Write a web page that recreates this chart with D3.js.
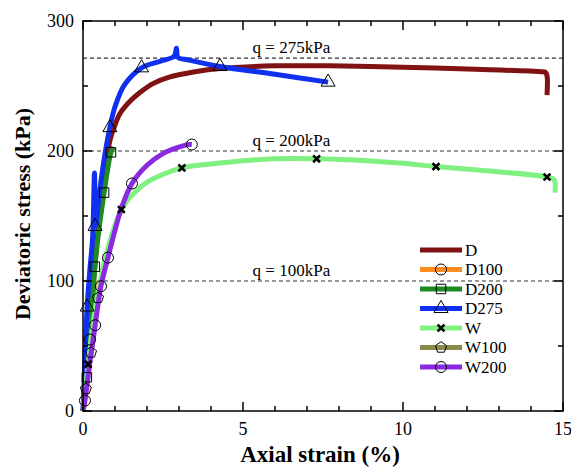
<!DOCTYPE html>
<html>
<head>
<meta charset="utf-8">
<script src="https://cdn.jsdelivr.net/npm/d3@7"></script>
<style>
  body { margin: 0; background: #fff; }
  text { font-family: "Liberation Serif", "Times New Roman", serif; fill: #000; }
</style>
</head>
<body>
<svg id="chart" width="571" height="467"></svg>
<script>
// ---- data (strain %, deviatoric stress kPa) ----
const seriesNames = ['D', 'D100', 'D200', 'D275', 'W', 'W100', 'W200'];
const seriesColors = ['#7f1212', '#ff8c1f', '#1f8a1f', '#1030f0', '#80f080', '#8a8a48', '#8a2be2'];
const seriesMarkers = ['none', 'circle', 'square', 'triangle', 'cross', 'pentagon', 'circle'];

const curveD = [[0, 0], [0.2, 60], [0.4, 120], [0.6, 170], [0.84, 208], [1.0, 220], [1.16, 229], [1.5, 239], [1.78, 245], [2.2, 252], [2.72, 257], [3.5, 261], [4.28, 263.5], [6, 265.5], [7.7, 265.5], [10, 264.5], [12, 263], [14.3, 261], [14.45, 260.5], [14.5, 258], [14.5, 243]];
const curveD100 = [[0, 0], [0.06, 8], [0.15, 35], [0.22, 55], [0.3, 80], [0.36, 100]];
const curveD200 = [[0, 0], [0.12, 26], [0.25, 70], [0.37, 111], [0.5, 140], [0.66, 168], [0.77, 186], [0.875, 199], [0.95, 203]];
const curveD275 = [[0, 0], [0.05, 30], [0.13, 80], [0.22, 110], [0.3, 133], [0.36, 183], [0.39, 142], [0.5, 165], [0.65, 192], [0.84, 218], [1.0, 234], [1.3, 251], [1.83, 264], [2.4, 269], [2.85, 273], [2.92, 279], [2.97, 272], [3.3, 270], [4.28, 265], [6, 259], [7.66, 253]];
const curveW = [[0, 0], [0.16, 36], [0.3, 65], [0.5, 95], [0.8, 127], [1.2, 155], [1.57, 167], [2.0, 176], [2.5, 182], [3.09, 187], [4, 190], [5, 192.5], [6, 194], [7.3, 194], [8.5, 193], [10, 190.5], [11.03, 188], [12.5, 185], [14.5, 180], [14.72, 178], [14.75, 168]];
const curveW100 = [[0, 0], [0.09, 17], [0.17, 30], [0.25, 45], [0.35, 65], [0.47, 87], [0.55, 98]];
const curveW200 = [[0, 0], [0.1, 15], [0.2, 35], [0.3, 52], [0.38, 66], [0.47, 82], [0.56, 96], [0.78, 118], [1.0, 139], [1.2, 156], [1.53, 175], [2.0, 189], [2.5, 198], [3.0, 203], [3.3, 205], [3.4, 205]];

const markD = [];
const markD100 = [[0.06, 8], [0.22, 55]];
const markD200 = [[0.12, 26], [0.37, 111], [0.66, 168], [0.875, 199]];
const markD275 = [[0.13, 80], [0.375, 142], [0.84, 218], [1.83, 264], [4.28, 265], [7.66, 253]];
const markW = [[0.16, 36], [1.2, 155], [3.09, 187], [7.3, 194], [11.03, 188], [14.5, 180]];
const markW100 = [[0.09, 17], [0.25, 45], [0.47, 87]];
const markW200 = [[0.38, 66], [0.56, 96], [0.78, 118], [1.53, 175], [3.4, 205]];

const curves = [curveD, curveD100, curveD200, curveD275, curveW, curveW100, curveW200];
const marks = [markD, markD100, markD200, markD275, markW, markW100, markW200];
// drawing order: hidden ones first
const drawOrder = [1, 5, 0, 2, 3, 4, 6];

const refValues = [271.5, 200, 100];
const refLabels = ['q = 275kPa', 'q = 200kPa', 'q = 100kPa'];

const xTicks = [0, 5, 10, 15];
const yTicks = [0, 100, 200, 300];

// ---- layout ----
const margin = { left: 83, right: 8, top: 21, bottom: 56 };
const W = 571, H = 467;
const width = W - margin.left - margin.right;
const height = H - margin.top - margin.bottom;

const svg = d3.select('#chart');
const g = svg.append('g').attr('transform', `translate(${margin.left},${margin.top})`);

const x = d3.scaleLinear().domain([0, 15]).range([0, width]);
const y = d3.scaleLinear().domain([0, 300]).range([height, 0]);

// reference lines
refValues.forEach((v, i) => {
  g.append('line')
    .attr('x1', 0).attr('x2', width)
    .attr('y1', y(v)).attr('y2', y(v))
    .attr('stroke', '#333').attr('stroke-width', 1.2)
    .attr('stroke-dasharray', '4,3');
  g.append('text')
    .attr('x', x(5.3)).attr('y', y(v) - 5)
    .style('font-size', '17px')
    .text(refLabels[i]);
});

// curves
const line = d3.line()
  .x(d => x(d[0]))
  .y(d => y(d[1]))
  .curve(d3.curveCatmullRom.alpha(0.5));

const symbolFor = {
  circle: d3.symbolCircle,
  square: d3.symbolSquare,
  triangle: d3.symbolTriangle
};

function pentagonPath(r) {
  const pts = d3.range(5).map(k => {
    const a = -Math.PI / 2 + k * 2 * Math.PI / 5;
    return [r * Math.cos(a), r * Math.sin(a)];
  });
  return 'M' + pts.map(p => p.join(',')).join('L') + 'Z';
}

function drawMarker(sel, type) {
  if (type === 'none') return;
  if (type === 'pentagon') {
    sel.append('path').attr('d', pentagonPath(5.8))
      .attr('fill', 'none').attr('stroke', '#000').attr('stroke-width', 1);
  } else if (type === 'cross') {
    sel.append('path').attr('d', d3.symbol(d3.symbolX, 32)())
      .attr('fill', 'none').attr('stroke', '#000').attr('stroke-width', 2.6);
  } else {
    const size = type === 'triangle' ? 85 : type === 'square' ? 90 : 95;
    sel.append('path').attr('d', d3.symbol(symbolFor[type], size)())
      .attr('fill', 'none').attr('stroke', '#000').attr('stroke-width', 1);
  }
}

drawOrder.forEach(i => {
  g.append('path')
    .datum(curves[i])
    .attr('fill', 'none')
    .attr('stroke', seriesColors[i])
    .attr('stroke-width', 5)
    .attr('stroke-linejoin', 'round')
    .attr('d', line);
});

drawOrder.forEach(i => {
  marks[i].forEach(d => {
    const m = g.append('g').attr('transform', `translate(${x(d[0])},${y(d[1])})`);
    drawMarker(m, seriesMarkers[i]);
  });
});

// axes frame and ticks (inward on all sides)
g.append('rect').attr('width', width).attr('height', height)
  .attr('fill', 'none').attr('stroke', '#000').attr('stroke-width', 1.5);

const xMinor = d3.range(0, 16, 1);
const yMinor = d3.range(0, 301, 50);

xMinor.forEach(v => {
  const len = v % 5 === 0 ? 9 : 5;
  g.append('line').attr('x1', x(v)).attr('x2', x(v)).attr('y1', height).attr('y2', height - len)
    .attr('stroke', '#000').attr('stroke-width', 1.5);
  g.append('line').attr('x1', x(v)).attr('x2', x(v)).attr('y1', 0).attr('y2', len)
    .attr('stroke', '#000').attr('stroke-width', 1.5);
});
yMinor.forEach(v => {
  const len = v % 100 === 0 ? 9 : 5;
  g.append('line').attr('x1', 0).attr('x2', len).attr('y1', y(v)).attr('y2', y(v))
    .attr('stroke', '#000').attr('stroke-width', 1.5);
  g.append('line').attr('x1', width).attr('x2', width - len).attr('y1', y(v)).attr('y2', y(v))
    .attr('stroke', '#000').attr('stroke-width', 1.5);
});

xTicks.forEach(v => {
  g.append('text').attr('x', x(v)).attr('y', height + 24)
    .attr('text-anchor', 'middle').style('font-size', '18px').text(v);
});
yTicks.forEach(v => {
  g.append('text').attr('x', -9).attr('y', y(v)).attr('dy', '0.35em')
    .attr('text-anchor', 'end').style('font-size', '18px').text(v);
});

// axis titles
svg.append('text')
  .attr('x', margin.left + width / 2 - 3).attr('y', 462)
  .attr('text-anchor', 'middle')
  .style('font-size', '23px').style('font-weight', 'bold')
  .text('Axial strain (%)');
svg.append('text')
  .attr('transform', `translate(30,${margin.top + height / 2 - 2}) rotate(-90)`)
  .attr('text-anchor', 'middle')
  .style('font-size', '22px').style('font-weight', 'bold')
  .text('Deviatoric stress (kPa)');

// legend
const legend = svg.append('g').attr('transform', 'translate(420,250)');
seriesNames.forEach((name, i) => {
  const row = legend.append('g').attr('transform', `translate(0,${i * 19.5})`);
  row.append('line').attr('x1', 0).attr('x2', 42).attr('y1', 0).attr('y2', 0)
    .attr('stroke', seriesColors[i]).attr('stroke-width', 5);
  const m = row.append('g').attr('transform', 'translate(21,0)');
  drawMarker(m, seriesMarkers[i]);
  row.append('text').attr('x', 45).attr('y', 0).attr('dy', '0.35em')
    .style('font-size', '17px').text(name);
});
</script>
</body>
</html>
